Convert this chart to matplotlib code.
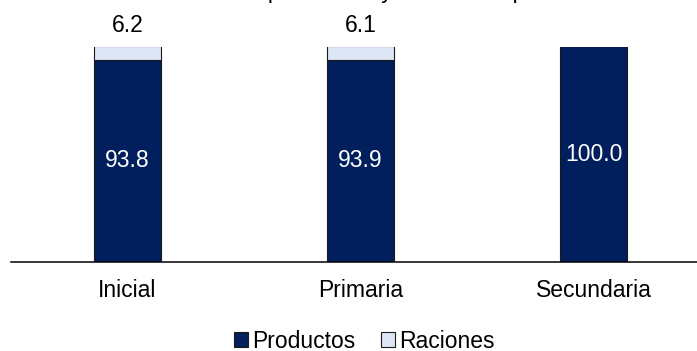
import matplotlib
matplotlib.use("Agg")
import matplotlib.pyplot as plt
import numpy as np

plt.rcParams['font.family'] = ['Liberation Sans', 'DejaVu Sans']

categories = ["Inicial", "Primaria", "Secundaria"]
productos = [93.8, 93.9, 100.0]
raciones = [6.2, 6.1, 0.0]

navy = "#001F5C"
light = "#DCE6F4"
fs = 16.5

W, H = 697, 351
fig = plt.figure(figsize=(W / 100, H / 100), dpi=100)
# axes in pixel terms: baseline at y=262, 100% at y=46.5, category spacing 233 px
ax = fig.add_axes([11 / W, (H - 262) / H, 699 / W, 215.5 / H])

x = np.arange(len(categories))
bw = 0.29
b1 = ax.bar(x, productos, bw, color=navy, edgecolor="#1a1a1a", linewidth=0.8, label="Productos")
b2 = ax.bar(x, raciones, bw, bottom=productos, color=light, edgecolor="#1a1a1a", linewidth=0.8, label="Raciones")

for i in range(len(categories)):
    ax.text(x[i], productos[i] / 2, f"{productos[i]:.1f}", ha="center", va="center",
            color="white", fontsize=fs)
    if raciones[i] > 0:
        ax.text(x[i], 100 + 9.6, f"{raciones[i]:.1f}", ha="center", va="center",
                color="black", fontsize=fs, clip_on=False)

ax.set_xlim(-0.5, 2.5)
ax.set_ylim(0, 100)
ax.set_yticks([])
ax.set_xticks(x)
ax.set_xticklabels(categories, fontsize=fs)
ax.tick_params(axis="x", length=0, pad=12)
for s in ["top", "left", "right"]:
    ax.spines[s].set_visible(False)
ax.spines["bottom"].set_linewidth(1.1)
ax.spines["bottom"].set_color("black")

# title cut off at the top edge, only descenders show
fig.text(0.512, 1 + 2.2 / H, "Estructura porcentual y monto compras", ha="center",
         va="baseline", fontsize=fs)

fig.legend(handles=[b1, b2], loc="center", bbox_to_anchor=(0.523, 10 / H), ncol=2,
           frameon=False, fontsize=fs, handlelength=0.6, handleheight=0.6,
           handletextpad=0.2, columnspacing=1.1, borderaxespad=0, borderpad=0)

fig.savefig("out.png", dpi=100)
